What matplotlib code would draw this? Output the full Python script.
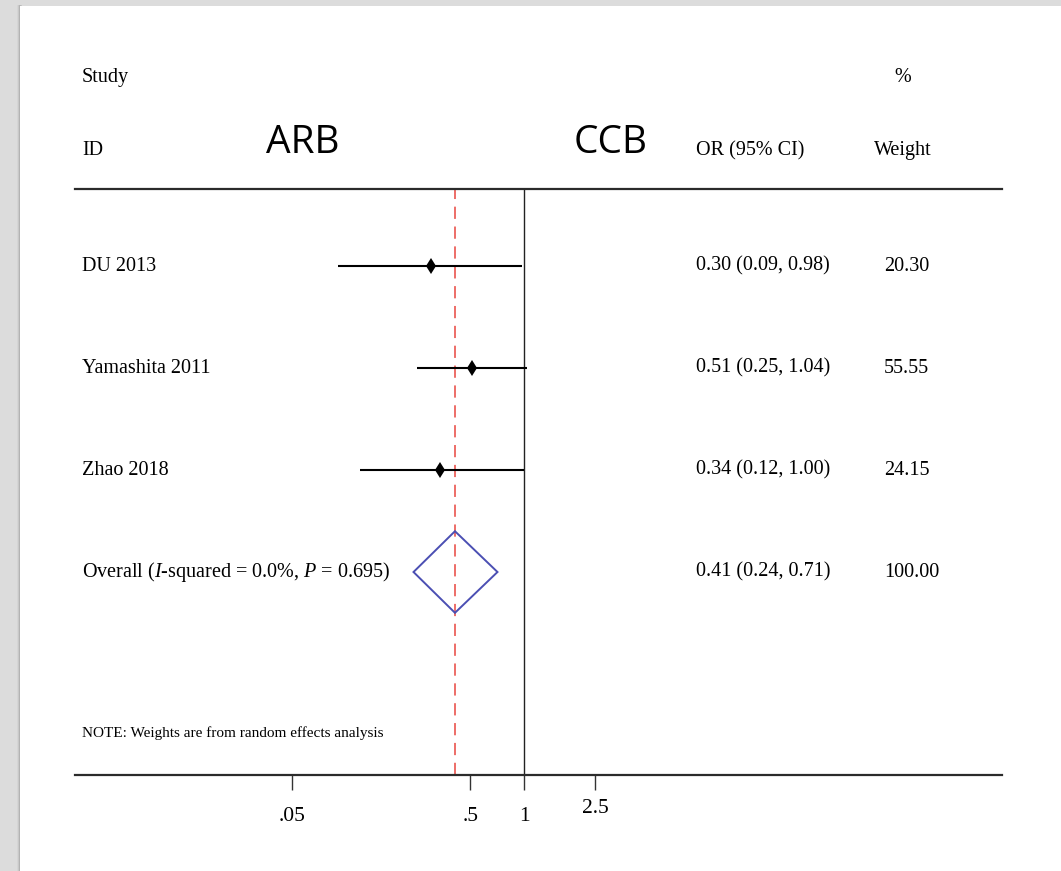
import matplotlib
matplotlib.use("Agg")
import matplotlib.pyplot as plt
import matplotlib.transforms as mtransforms
from matplotlib.patches import Rectangle, Polygon
from matplotlib.ticker import FixedLocator, FixedFormatter

plt.rcParams['font.family'] = ['Liberation Serif', 'DejaVu Serif']
plt.rcParams['mathtext.fontset'] = 'custom'
plt.rcParams['mathtext.rm'] = 'Liberation Serif'
plt.rcParams['mathtext.it'] = 'Liberation Serif:italic'

# study data
studies = ["DU 2013", "Yamashita 2011", "Zhao 2018"]
or_est = [0.30, 0.51, 0.34]
ci_low = [0.09, 0.25, 0.12]
ci_high = [0.98, 1.04, 1.00]
weights = [20.30, 55.55, 24.15]

# pooled estimate
overall_label = "Overall ($I$-squared = 0.0%, $P$ = 0.695)"
overall_or = 0.41
overall_low = 0.24
overall_high = 0.71
overall_weight = 100.00

tick_vals = [0.05, 0.5, 1, 2.5]
tick_labels = [".05", ".5", "1", "2.5"]

fig = plt.figure(figsize=(10.61, 8.71), dpi=100, facecolor='#dcdcdc')
# page with a soft left shadow
for i, a in enumerate([0.03, 0.06, 0.1]):
    fig.add_artist(Rectangle(((17 + i) / 1061, 0), 3 / 1061, 1 - 5 / 871,
                             transform=fig.transFigure, facecolor='black',
                             alpha=a, lw=0, zorder=0))
fig.add_artist(Rectangle((20 / 1061, 0), 1 - 20 / 1061, 1 - 6 / 871,
                         transform=fig.transFigure, facecolor='white',
                         lw=0, zorder=0))

ax = fig.add_axes([75 / 1061, 96 / 871, 927 / 1061, 586 / 871])
ax.patch.set_visible(False)
ax.set_xscale('log')
ax.set_xlim(0.00303, 480)
ax.set_ylim(5.99, 0.245)

rows = [1, 2, 3]
row_overall = 4

# confidence intervals and point estimates
for y, est, lo, hi in zip(rows, or_est, ci_low, ci_high):
    ax.plot([lo, hi], [y, y], color='black', lw=1.5, solid_capstyle='butt', zorder=3)
    ax.plot(est, y, marker='d', ms=8, color='black', mew=0, zorder=4)

# pooled diamond
h = 0.4
diamond = Polygon([(overall_low, row_overall), (overall_or, row_overall - h),
                   (overall_high, row_overall), (overall_or, row_overall + h)],
                  closed=True, fill=False, edgecolor='#4b4fb3', lw=1.4, zorder=3)
ax.add_patch(diamond)

ax.axvline(1, color='#222222', lw=1.0, zorder=2)
ax.axvline(overall_or, color='#e8453e', lw=1.1, ls=(0, (8, 5)), zorder=2)

# spines and x axis
for side in ['left', 'right']:
    ax.spines[side].set_visible(False)
for side in ['top', 'bottom']:
    ax.spines[side].set_linewidth(1.6)
    ax.spines[side].set_color('#2b2b2b')
ax.set_yticks([])
ax.xaxis.set_major_locator(FixedLocator(tick_vals))
ax.xaxis.set_major_formatter(FixedFormatter(tick_labels))
ax.xaxis.set_minor_locator(FixedLocator([]))
ax.tick_params(axis='x', which='major', length=11, width=1.0, color='#333333',
               pad=12, labelsize=15.5, direction='out', top=False)
# the 2.5 label sits a little higher than the others
lab = ax.xaxis.get_major_ticks()[3].label1
lab.set_transform(lab.get_transform() +
                  mtransforms.ScaledTranslation(0, 6 / 72, fig.dpi_scale_trans))

# text columns
tr = mtransforms.blended_transform_factory(ax.transAxes, ax.transData)
x_id = (82 - 75) / 927
x_or = (696 - 75) / 927
x_wt = (884 - 75) / 927
x_wt_head = (903 - 75) / 927
x_arb = (303 - 75) / 927
x_ccb = (611 - 75) / 927
fs = 14.5

ax.text(x_id, -0.805, "Study", transform=tr, fontsize=fs, va='baseline', clip_on=False)
ax.text(x_id, -0.088, "ID", transform=tr, fontsize=fs, va='baseline', clip_on=False)
ax.text(x_or, -0.088, "OR (95% CI)", transform=tr, fontsize=fs, va='baseline', clip_on=False)
ax.text(x_wt_head, -0.805, "%", transform=tr, fontsize=fs, va='baseline', ha='center', clip_on=False)
ax.text(x_wt_head, -0.088, "Weight", transform=tr, fontsize=fs, va='baseline', ha='center', clip_on=False)

ax.text(x_arb, -0.108, "ARB", transform=tr, fontsize=28, va='baseline', ha='center',
        clip_on=False, family=['Open Sans', 'DejaVu Sans'])
ax.text(x_ccb, -0.108, "CCB", transform=tr, fontsize=28, va='baseline', ha='center',
        clip_on=False, family=['Open Sans', 'DejaVu Sans'])

for y, name, est, lo, hi, w in zip(rows, studies, or_est, ci_low, ci_high, weights):
    ax.text(x_id, y, name, transform=tr, fontsize=fs, va='center')
    ax.text(x_or, y, f"{est:.2f} ({lo:.2f}, {hi:.2f})", transform=tr, fontsize=fs, va='center')
    ax.text(x_wt, y, f"{w:.2f}", transform=tr, fontsize=fs, va='center')

ax.text(x_id, row_overall, overall_label, transform=tr, fontsize=fs, va='center')
ax.text(x_or, row_overall, f"{overall_or:.2f} ({overall_low:.2f}, {overall_high:.2f})",
        transform=tr, fontsize=fs, va='center')
ax.text(x_wt, row_overall, f"{overall_weight:.2f}", transform=tr, fontsize=fs, va='center')

ax.text(x_id, 5.62, "NOTE: Weights are from random effects analysis", transform=tr,
        fontsize=11, va='baseline')

fig.savefig("out.png", dpi=100, facecolor=fig.get_facecolor())
